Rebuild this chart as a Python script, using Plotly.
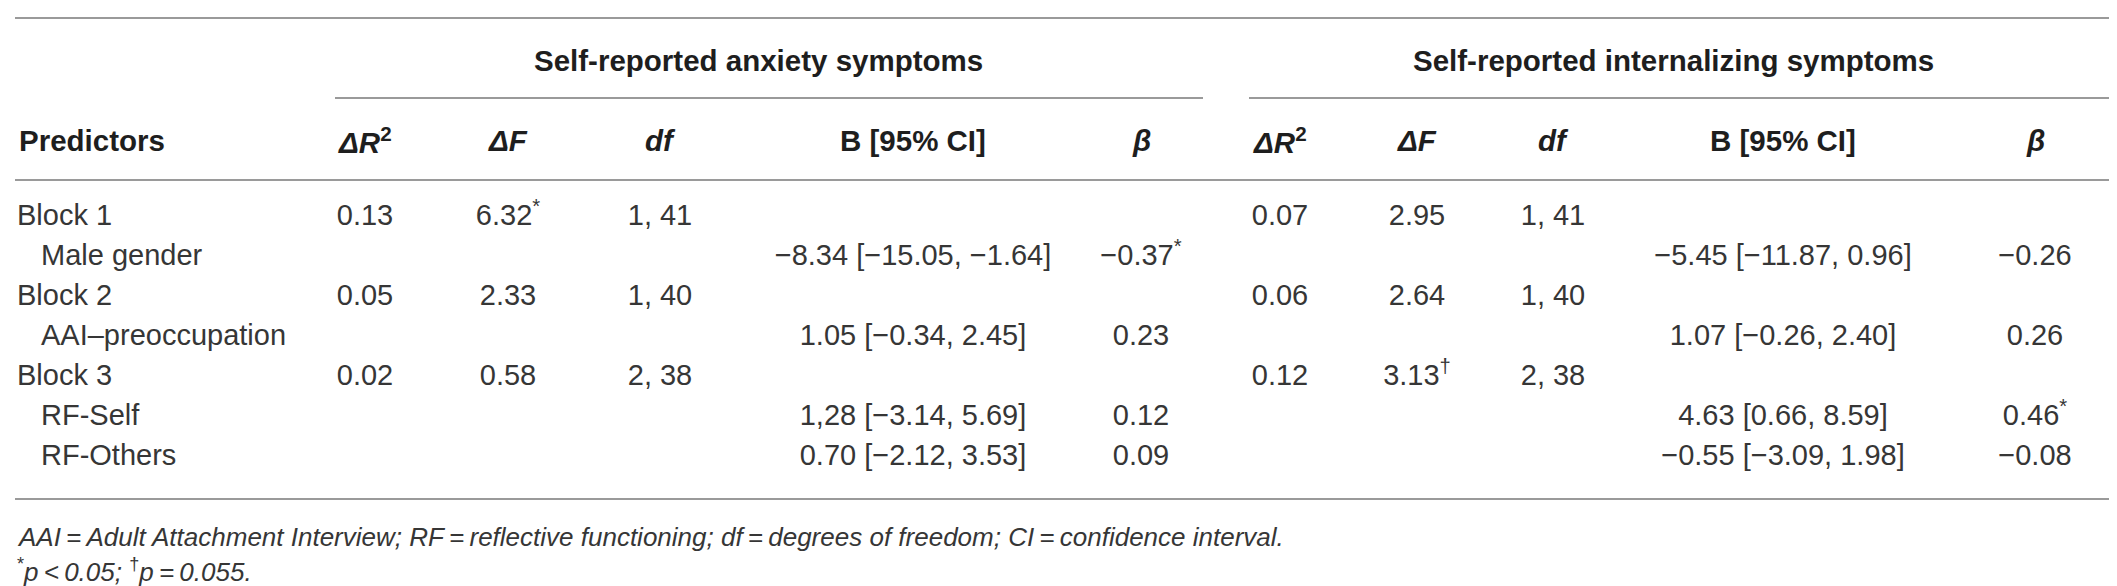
import plotly.graph_objects as go

# table content
predictors = ["Block 1", "Male gender", "Block 2", "AAI–preoccupation", "Block 3", "RF-Self", "RF-Others"]
is_block = [True, False, True, False, True, False, False]

anx_dr2 = ["0.13", "", "0.05", "", "0.02", "", ""]
anx_dF = ["6.32<sup>*</sup>", "", "2.33", "", "0.58", "", ""]
anx_df = ["1, 41", "", "1, 40", "", "2, 38", "", ""]
anx_b = ["", "−8.34 [−15.05, −1.64]", "", "1.05 [−0.34, 2.45]", "", "1,28 [−3.14, 5.69]", "0.70 [−2.12, 3.53]"]
anx_beta = ["", "−0.37<sup>*</sup>", "", "0.23", "", "0.12", "0.09"]

int_dr2 = ["0.07", "", "0.06", "", "0.12", "", ""]
int_dF = ["2.95", "", "2.64", "", "3.13<sup>†</sup>", "", ""]
int_df = ["1, 41", "", "1, 40", "", "2, 38", "", ""]
int_b = ["", "−5.45 [−11.87, 0.96]", "", "1.07 [−0.26, 2.40]", "", "4.63 [0.66, 8.59]", "−0.55 [−3.09, 1.98]"]
int_beta = ["", "−0.26", "", "0.26", "", "0.46<sup>*</sup>", "−0.08"]

groups = ["Self-reported anxiety symptoms", "Self-reported internalizing symptoms"]
col_heads = ["<i>ΔR</i><sup>2</sup>", "<i>ΔF</i>", "<i>df</i>", "B [95% CI]", "<i>β</i>"]
note1 = ("<i>AAI\u2009=\u2009Adult Attachment Interview; RF\u2009=\u2009reflective functioning; "
         "df\u2009=\u2009degrees of freedom; CI\u2009=\u2009confidence interval.</i>")
note2 = "<sup>*</sup><i>p\u2009<\u20090.05; </i><sup>†</sup><i>p\u2009=\u20090.055.</i>"

W, H = 2117, 586
FONT = "Liberation Sans, Arial, sans-serif"
TXT = "#363636"
HEAD = "#1e1e1e"
RULE = "#9a9a9a"

row_y = [210 + 40 * i for i in range(len(predictors))]
anx_x = [357, 500, 652, 905, 1133]
int_x = [1272, 1409, 1545, 1775, 2027]
group_x = [750, 1665]

fig = go.Figure()

# horizontal rules (top, group underlines, header rule, bottom)
rules = [(7, 2108, 10), (327, 1195, 90), (1241, 2108, 90), (7, 2108, 172), (7, 2108, 491)]
rx, ry = [], []
for a, b, y in rules:
    rx += [a, b, None]
    ry += [y, y, None]
fig.add_trace(go.Scatter(x=rx, y=ry, mode="lines", line=dict(color=RULE, width=2),
                         hoverinfo="skip", cliponaxis=False))

# predictor labels
fig.add_trace(go.Scatter(
    x=[9 if b else 33 for b in is_block], y=row_y, text=predictors,
    mode="text", textposition="middle right",
    textfont=dict(family=FONT, size=29, color=TXT),
    hoverinfo="skip", cliponaxis=False))

# numeric cells
cx_all, cy_all, ct_all = [], [], []
for cx, cols in [(anx_x, [anx_dr2, anx_dF, anx_df, anx_b, anx_beta]),
                 (int_x, [int_dr2, int_dF, int_df, int_b, int_beta])]:
    for x0, col in zip(cx, cols):
        for i, t in enumerate(col):
            if t:
                cx_all.append(x0)
                cy_all.append(row_y[i])
                ct_all.append(t)
fig.add_trace(go.Scatter(
    x=cx_all, y=cy_all, text=ct_all, mode="text", textposition="middle center",
    textfont=dict(family=FONT, size=29, color=TXT),
    hoverinfo="skip", cliponaxis=False))

ann = []
hfont = dict(family=FONT, size=29.5, color=HEAD)
for g, gx in zip(groups, group_x):
    ann.append(dict(x=gx, y=52, text="<b>" + g + "</b>", xanchor="center", yanchor="middle",
                    showarrow=False, font=hfont))
ann.append(dict(x=9, y=132, text="<b>Predictors</b>", xanchor="left", yanchor="middle",
                showarrow=False, font=hfont))
for cx in [anx_x, int_x]:
    for x0, h in zip(cx, col_heads):
        ann.append(dict(x=x0, y=132, text="<b>" + h + "</b>", xanchor="center", yanchor="middle",
                        showarrow=False, font=hfont))
# footnotes
ann.append(dict(x=7, y=529, text=note1, xanchor="left", yanchor="middle", showarrow=False,
                font=dict(family=FONT, size=26, color=TXT)))
ann.append(dict(x=7, y=562, text=note2, xanchor="left", yanchor="middle", showarrow=False,
                font=dict(family=FONT, size=26, color=TXT)))

fig.update_layout(
    width=W, height=H, margin=dict(l=0, r=0, t=0, b=0),
    paper_bgcolor="white", plot_bgcolor="white", showlegend=False,
    xaxis=dict(range=[0, W], visible=False, fixedrange=True),
    yaxis=dict(range=[H, 0], visible=False, fixedrange=True),
    annotations=ann)

fig.write_html("out.html", config={"displayModeBar": False})
